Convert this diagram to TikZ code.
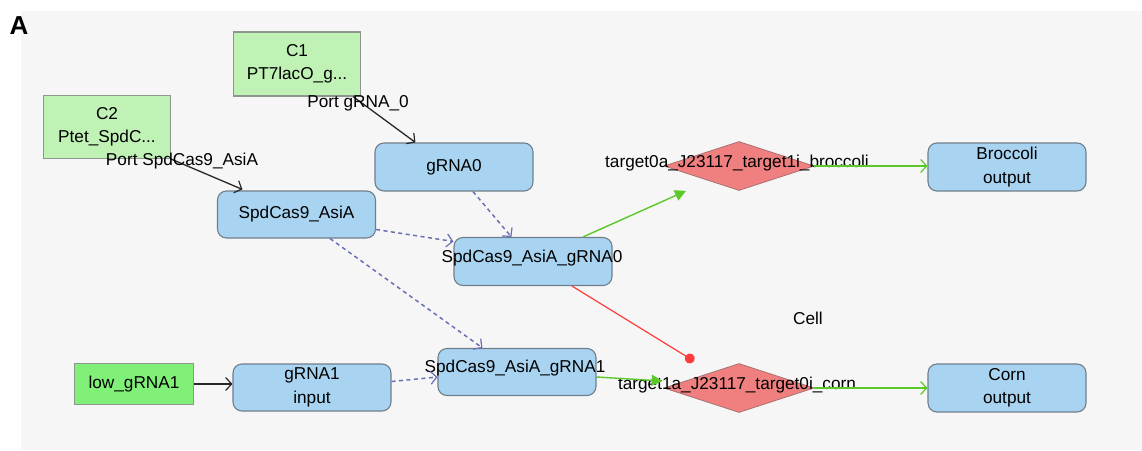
\documentclass[tikz,border=0pt]{standalone}
\usepackage{fontspec}
\setmainfont{Liberation Sans}
\usetikzlibrary{shapes.geometric,arrows.meta,calc}

\definecolor{panelbg}{RGB}{246,246,246}
\definecolor{bluefill}{RGB}{168,212,242}
\definecolor{blueline}{RGB}{112,126,140}
\definecolor{cfill}{RGB}{192,242,182}
\definecolor{cline}{RGB}{140,152,140}
\definecolor{lowfill}{RGB}{128,240,120}
\definecolor{dfill}{RGB}{240,128,128}
\definecolor{dline}{RGB}{170,112,112}
\definecolor{gedge}{RGB}{90,200,40}
\definecolor{redge}{RGB}{255,60,60}
\definecolor{dedge}{RGB}{106,112,180}
\definecolor{kedge}{RGB}{40,40,40}

\tikzset{
  txt/.style={font=\fontsize{17.2}{23.5}\selectfont, text=black},
  species/.style={draw=blueline, fill=bluefill, line width=1.1pt, rounded corners=9pt,
    minimum width=158pt, minimum height=48pt, inner sep=0pt, align=center, txt},
  cmod/.style={draw=cline, fill=cfill, line width=1.1pt, minimum width=127pt,
    minimum height=64pt, inner sep=0pt, align=center, txt},
  lowin/.style={draw=cline, fill=lowfill, line width=1.1pt, minimum width=119pt,
    minimum height=41pt, inner sep=0pt, txt},
  gate/.style={diamond, draw=dline, fill=dfill, line width=0.8pt,
    minimum width=150pt, minimum height=49pt, inner sep=0pt},
  lbl/.style={txt, inner sep=0pt},
  barb/.style={-{Straight Barb[length=6pt,width=13pt,line width=1.2pt]}},
  portedge/.style={draw=kedge, line width=1.3pt, barb},
  complexedge/.style={draw=dedge, line width=1.5pt, dash pattern=on 4pt off 3.5pt,
    -{Straight Barb[length=6pt,width=13pt,line width=1.2pt]}},
  actedge/.style={draw=gedge, line width=1.4pt, -{Triangle[length=11pt,width=11pt]}},
  outedge/.style={draw=gedge, line width=1.5pt, -{Straight Barb[length=6pt,width=13pt,line width=1.2pt]}},
  repedge/.style={draw=redge, line width=1.2pt, -{Circle[length=10pt]}},
}

\begin{document}
\begin{tikzpicture}[x=1pt, y=-1pt]
  \useasboundingbox (0,0) rectangle (1142,450);
  \fill[white] (0,0) rectangle (1142,450);
  \fill[panelbg] (21,11) rectangle (1142,450);
  \node[font=\fontsize{26}{26}\selectfont\bfseries, inner sep=0pt] (panelA) at (19,26) {A};

  % compartment label
  \node[lbl] (cell) at (808,318) {Cell};

  % composite modules
  \node[cmod] (C1) at (297,64) {C1\\PT7lacO\_g...};
  \node[cmod, minimum height=63pt] (C2) at (107,127) {C2\\Ptet\_SpdC...};
  \node[lowin] (low) at (134,384) {low\_gRNA1};

  % species
  \node[species] (g0) at (454,167) {gRNA0};
  \node[species, minimum height=47pt] (cas) at (296.5,214.5) {SpdCas9\_AsiA};
  \node[species, label={[lbl, yshift=3pt, xshift=-1pt]center:SpdCas9\_AsiA\_gRNA0}] (c0) at (533,261.5) {};
  \node[species, minimum height=47pt, label={[lbl, yshift=4pt, xshift=-2pt]center:SpdCas9\_AsiA\_gRNA1}] (c1) at (517,372) {};
  \node[species, minimum height=47pt] (in1) at (312,387.5) {gRNA1\\input};
  \node[species] (brout) at (1007,167) {Broccoli\\output};
  \node[species] (cout) at (1007,388) {Corn\\output};

  % promoters
  \node[gate] (bro) at (739,166) {};
  \node[gate] (corn) at (739,388) {};
  \node[lbl] (brolbl) at (737,163) {target0a\_J23117\_target1i\_broccoli};
  \node[lbl] (cornlbl) at (737,385) {target1a\_J23117\_target0i\_corn};

  % free ends of the regulation edges
  \coordinate (broIn) at ($(bro.south)+(-53,0)$);
  \coordinate (cornAct) at ($(corn.west)+(-1,-7)$);
  \coordinate (cornRep) at ($(corn.north)+(-45,-2)$);

  % module ports
  \draw[portedge] ($(C1.south east)+(-8,0)$) -- ($(g0.north west)+(41,0)$);
  \node[lbl] (port0) at (358,103) {Port gRNA\_0};
  \draw[portedge] (C2.south east) -- ($(cas.north west)+(25.5,-1)$);
  \node[lbl] (port1) at (182,161) {Port SpdCas9\_AsiA};
  \draw[portedge] (low.east) -- (low.east -| in1.west);

  % complex formation
  \draw[complexedge] ($(g0.south)+(19,0)$) -- ($(c0.north west)+(58,0)$);
  \draw[complexedge] ($(cas.east)+(0,15)$) -- ($(c0.west)+(0,-20)$);
  \draw[complexedge] ($(cas.south)+(33.5,0)$) -- ($(c1.north west)+(45,0)$);
  \draw[complexedge] ($(in1.east)+(0,-6)$) -- ($(c1.west)+(0,5)$);

  % regulation
  \draw[actedge] ($(c0.north)+(50,0)$) -- (broIn);
  \draw[repedge] ($(c0.south)+(39,0)$) -- (cornRep);
  \draw[actedge] ($(c1.east)+(0,5)$) -- (cornAct);

  % outputs
  \draw[outedge] (bro.east) -- (bro.east -| brout.west);
  \draw[outedge] (corn.east) -- (corn.east -| cout.west);
\end{tikzpicture}
\end{document}
